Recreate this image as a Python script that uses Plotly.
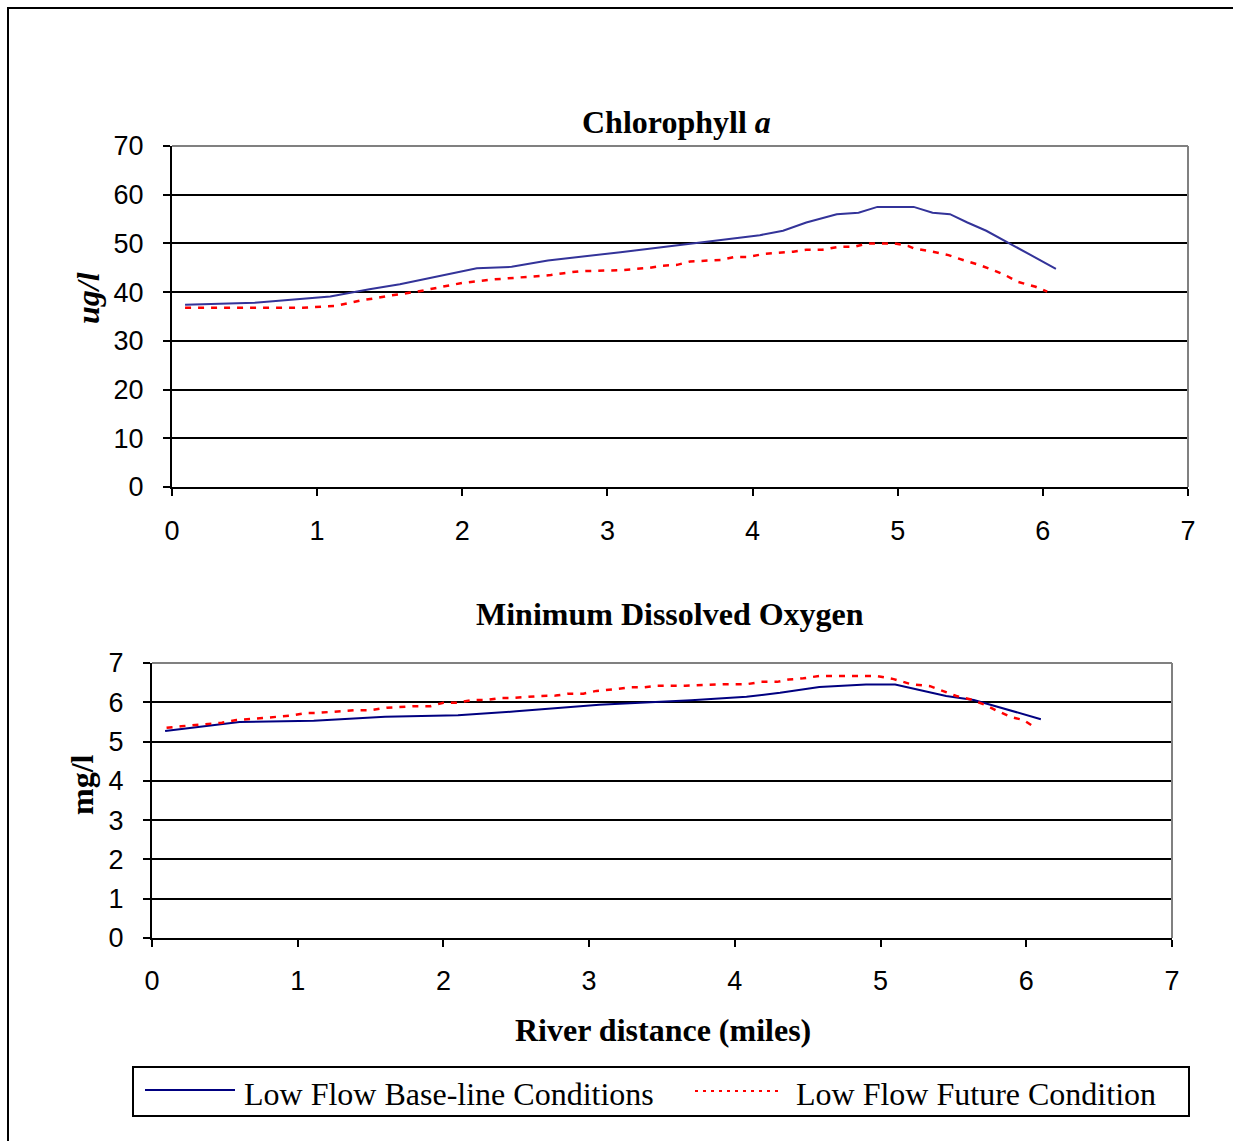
import plotly.graph_objects as go

# ---------------- data ----------------
chl_base_x = [0.09, 0.57, 1.09, 1.36, 1.57, 1.87, 2.10, 2.34, 2.59, 3.09, 3.66, 4.05, 4.21, 4.37,
              4.58, 4.73, 4.86, 5.11, 5.24, 5.36, 5.48, 5.61, 6.09]
chl_base_y = [37.4, 37.8, 39.1, 40.6, 41.6, 43.5, 44.9, 45.2, 46.5, 48.2, 50.3, 51.7, 52.6, 54.3,
              56.0, 56.3, 57.5, 57.5, 56.3, 56.0, 54.3, 52.6, 44.8]

chl_fut_x = [0.09, 0.90, 1.13, 1.30, 1.39, 1.50, 1.69, 1.89, 2.00, 2.21, 2.40, 2.61, 2.70, 2.81,
             3.09, 3.29, 3.37, 3.48, 3.57, 3.67, 3.78, 3.87, 3.96, 4.09, 4.28, 4.37, 4.48, 4.59,
             4.70, 4.79, 4.88, 4.98, 5.07, 5.11, 5.24, 5.35, 5.46, 5.56, 5.66, 5.74, 5.83, 5.95, 6.03]
chl_fut_y = [36.8, 36.8, 37.2, 38.3, 38.7, 39.3, 40.1, 41.3, 41.9, 42.6, 43.0, 43.5, 43.9, 44.3,
             44.5, 45.0, 45.4, 45.6, 46.3, 46.5, 46.6, 47.2, 47.2, 47.9, 48.3, 48.7, 48.7, 49.3,
             49.3, 50.0, 50.0, 50.0, 49.5, 49.0, 48.3, 47.6, 46.5, 45.6, 44.5, 43.5, 42.1, 41.1, 40.1]

do_base_x = [0.09, 0.47, 0.60, 1.11, 1.60, 2.10, 2.50, 3.07, 3.40, 3.70, 4.08, 4.31, 4.58, 4.90,
             5.10, 5.22, 5.45, 5.64, 6.10]
do_base_y = [5.27, 5.45, 5.50, 5.53, 5.63, 5.67, 5.77, 5.94, 6.00, 6.05, 6.14, 6.24, 6.39, 6.45,
             6.45, 6.35, 6.16, 6.06, 5.57]

do_fut_x = [0.10, 0.20, 0.48, 0.58, 0.76, 0.86, 0.95, 1.06, 1.13, 1.40, 1.50, 1.61, 1.71, 1.80,
            1.91, 2.00, 2.10, 2.20, 2.30, 2.39, 2.48, 2.66, 2.77, 2.86, 2.96, 3.05, 3.17, 3.28,
            3.38, 3.47, 3.66, 3.92, 4.08, 4.18, 4.29, 4.37, 4.47, 4.58, 4.79, 4.97, 5.09, 5.21,
            5.34, 5.44, 5.52, 5.62, 5.72, 5.79, 5.89, 5.98, 6.06]
do_fut_y = [5.35, 5.39, 5.48, 5.55, 5.60, 5.63, 5.66, 5.73, 5.73, 5.80, 5.80, 5.86, 5.89, 5.90,
            5.90, 5.99, 5.99, 6.06, 6.06, 6.11, 6.11, 6.16, 6.17, 6.22, 6.22, 6.29, 6.33, 6.38,
            6.38, 6.42, 6.42, 6.46, 6.46, 6.52, 6.52, 6.58, 6.61, 6.67, 6.67, 6.67, 6.59, 6.46,
            6.41, 6.27, 6.16, 6.07, 5.93, 5.80, 5.63, 5.55, 5.36]

x_ticks = [0, 1, 2, 3, 4, 5, 6, 7]
chl_ticks = [0, 10, 20, 30, 40, 50, 60, 70]
do_ticks = [0, 1, 2, 3, 4, 5, 6, 7]

series_names = ["Low Flow Base-line Conditions", "Low Flow Future Condition"]
title_top = "<b>Chlorophyll <i>a</i></b>"
title_bottom = "<b>Minimum Dissolved Oxygen</b>"
x_title = "<b>River distance (miles)</b>"
y_title_top = "<b><i>ug/l</i></b>"
y_title_bottom = "<b>mg/l</b>"

# ---------------- layout helpers ----------------
W, H = 1233, 1141
def px(x):
    return x / W
def py(y):
    return 1 - y / H

SANS = "Liberation Sans, Arial, sans-serif"
SERIF = "Liberation Serif, Times New Roman, serif"
RED = "#FF0000"

fig = go.Figure()
fig.add_trace(go.Scatter(x=chl_base_x, y=chl_base_y, mode="lines", name=series_names[0],
                         line=dict(color="#333399", width=2), xaxis="x", yaxis="y", showlegend=False))
fig.add_trace(go.Scatter(x=chl_fut_x, y=chl_fut_y, mode="lines", name=series_names[1],
                         line=dict(color=RED, width=2.5, dash="6px,7px"), xaxis="x", yaxis="y",
                         showlegend=False))
fig.add_trace(go.Scatter(x=do_base_x, y=do_base_y, mode="lines", name=series_names[0],
                         line=dict(color="#000080", width=2), xaxis="x2", yaxis="y2", showlegend=False))
fig.add_trace(go.Scatter(x=do_fut_x, y=do_fut_y, mode="lines", name=series_names[1],
                         line=dict(color=RED, width=2.5, dash="6px,7px"), xaxis="x2", yaxis="y2",
                         showlegend=False))

axis_common = dict(showline=True, linecolor="black", linewidth=2, ticks="outside", ticklen=7,
                   tickwidth=2, tickcolor="black", tickfont=dict(family=SANS, size=27, color="black"),
                   zeroline=False)

fig.update_layout(
    width=W, height=H,
    margin=dict(l=0, r=0, t=0, b=0, pad=0, autoexpand=False),
    paper_bgcolor="white", plot_bgcolor="white",
    xaxis=dict(domain=[px(172), px(1188)], anchor="y", range=[0, 7], tickvals=x_ticks,
               showgrid=False, ticklabelstandoff=12, **axis_common),
    yaxis=dict(domain=[py(487), py(146)], anchor="x", range=[0, 70], tickvals=chl_ticks,
               showgrid=True, gridcolor="black", gridwidth=2, ticklabelstandoff=14, **axis_common),
    xaxis2=dict(domain=[px(152), px(1172)], anchor="y2", range=[0, 7], tickvals=x_ticks,
                showgrid=False, ticklabelstandoff=11, **axis_common),
    yaxis2=dict(domain=[py(938), py(663)], anchor="x2", range=[0, 7], tickvals=do_ticks,
                showgrid=True, gridcolor="black", gridwidth=2, ticklabelstandoff=14, **axis_common),
)

shapes = []
# grey frame (top and right) for both plot areas
for xr, yr in (("x", "y"), ("x2", "y2")):
    shapes.append(dict(type="line", xref=f"{xr} domain", yref=f"{yr} domain", x0=0, x1=1, y0=1, y1=1,
                       line=dict(color="#808080", width=2)))
    shapes.append(dict(type="line", xref=f"{xr} domain", yref=f"{yr} domain", x0=1, x1=1, y0=0, y1=1,
                       line=dict(color="#808080", width=2)))
# outer border
shapes.append(dict(type="rect", xref="paper", yref="paper", x0=px(8), x1=1.02, y0=-0.02, y1=py(8),
                   line=dict(color="black", width=2), fillcolor="rgba(0,0,0,0)"))
# legend box
shapes.append(dict(type="rect", xref="paper", yref="paper", x0=px(133), x1=px(1189),
                   y0=py(1116), y1=py(1067), line=dict(color="black", width=2),
                   fillcolor="rgba(0,0,0,0)"))
shapes.append(dict(type="line", xref="paper", yref="paper", x0=px(145), x1=px(235),
                   y0=py(1090), y1=py(1090), line=dict(color="#000080", width=2)))
shapes.append(dict(type="line", xref="paper", yref="paper", x0=px(695), x1=px(780),
                   y0=py(1091), y1=py(1091), line=dict(color=RED, width=2, dash="3px,5px")))
fig.update_layout(shapes=shapes)

annotations = [
    dict(text=title_top, x=px(676), y=py(122), font=dict(family=SERIF, size=32, color="black")),
    dict(text=title_bottom, x=px(670), y=py(614), font=dict(family=SERIF, size=32, color="black")),
    dict(text=x_title, x=px(663), y=py(1030), font=dict(family=SERIF, size=32, color="black")),
    dict(text=y_title_top, x=px(88), y=py(298), textangle=-90,
         font=dict(family=SERIF, size=32, color="black")),
    dict(text=y_title_bottom, x=px(82), y=py(785), textangle=-90,
         font=dict(family=SERIF, size=32, color="black")),
    dict(text=series_names[0], x=px(242), y=py(1094), xanchor="left",
         font=dict(family=SERIF, size=32, color="black")),
    dict(text=series_names[1], x=px(794), y=py(1094), xanchor="left",
         font=dict(family=SERIF, size=32, color="black")),
]
for a in annotations:
    a.setdefault("xanchor", "center")
    a.update(xref="paper", yref="paper", yanchor="middle", showarrow=False)
fig.update_layout(annotations=annotations)

fig.write_html(
    "out.html",
    post_script="document.body.style.margin='0';document.body.style.overflow='hidden';",
)
